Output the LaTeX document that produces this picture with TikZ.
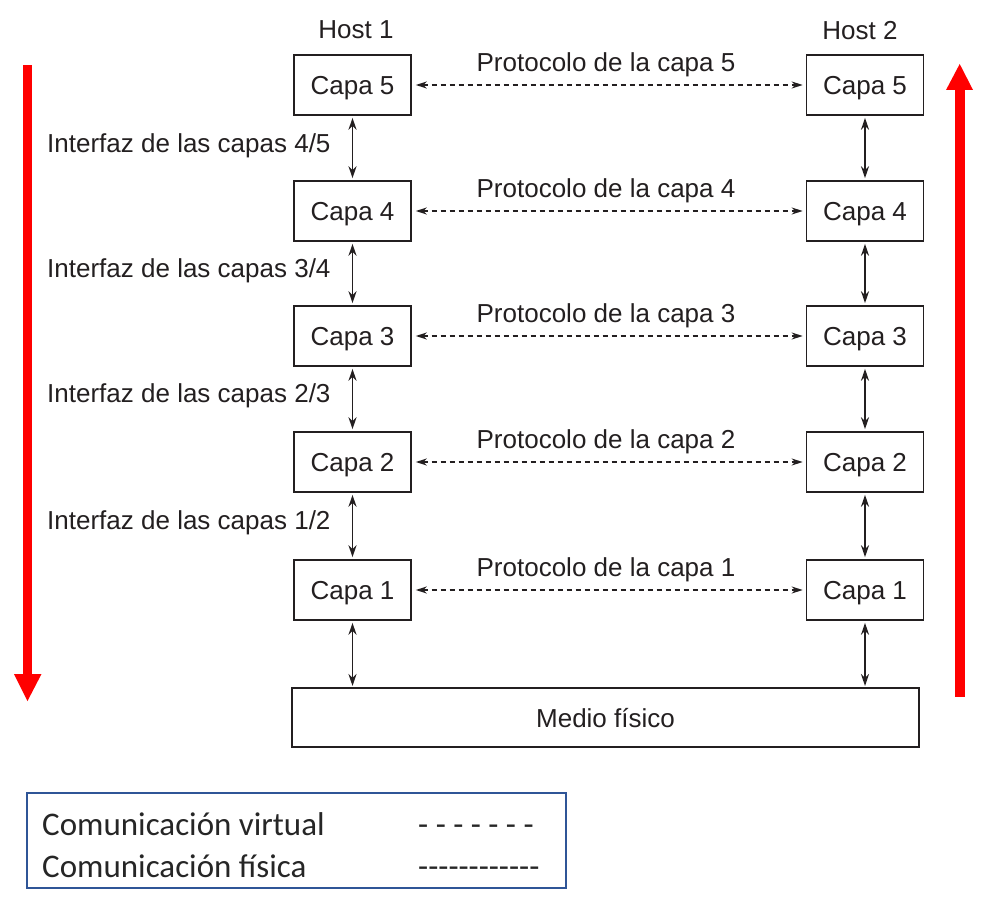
\documentclass[tikz,border=0pt]{standalone}
\usepackage{fontspec}
\setmainfont{Liberation Sans}
\newfontfamily\legendfont{Carlito}
\usetikzlibrary{arrows.meta}
\definecolor{ink}{HTML}{231F20}
\definecolor{legblue}{HTML}{2F5597}
\definecolor{legtext}{HTML}{262626}
\begin{document}
\begin{tikzpicture}[x=1pt,y=-1pt,
  font=\fontsize{26}{31}\selectfont,
  layer/.style={draw=ink,line width=1.6pt,minimum width=117pt,minimum height=60pt,inner sep=0pt,text=ink,text depth=0pt},
  lbl/.style={text=ink,inner sep=0pt,text depth=0pt},
  vlink/.style={draw=ink,line width=1.8pt,{Stealth[length=12pt,width=8pt]}-{Stealth[length=12pt,width=8pt]},shorten <=2pt,shorten >=2pt},
  hlink/.style={draw=ink,line width=1.5pt,dash pattern=on 5pt off 4pt,{Stealth[length=11pt,width=7pt]}-{Stealth[length=11pt,width=7pt]},shorten <=4pt,shorten >=3pt},
  legtxt/.style={font=\legendfont\fontsize{33}{38}\selectfont,text=legtext,inner sep=0pt,anchor=base west}]
\useasboundingbox (0,0) rectangle (987,901);

% Host labels
\node[lbl] (h1) at (356,30) {Host 1};
\node[lbl] (h2) at (860,30) {Host 2};

% Layers
\foreach \i/\y in {5/85,4/211,3/336,2/462,1/590}{
  \node[layer] (L\i) at (352.5,\y) {Capa \i};
  \node[layer] (R\i) at (865,\y) {Capa \i};
  \draw[hlink] (L\i) -- (R\i);
  \node[lbl] (P\i) at (606,\y-23) {Protocolo de la capa \i};
}

\node[layer,minimum width=627pt,minimum height=59pt] (M) at (605.5,717.5) {Medio físico};

% Interfaces
\foreach \a/\b in {5/4,4/3,3/2,2/1}{
  \draw[vlink] (L\a) -- (L\b);
  \draw[vlink] (R\a) -- (R\b);
}
\coordinate (mL) at (352.5,688);
\coordinate (mR) at (865,688);
\draw[vlink] (L1) -- (mL);
\draw[vlink] (R1) -- (mR);

\node[lbl,anchor=west] (I45) at (47,143) {Interfaz de las capas 4/5};
\node[lbl,anchor=west] (I34) at (47,268) {Interfaz de las capas 3/4};
\node[lbl,anchor=west] (I23) at (47,393) {Interfaz de las capas 2/3};
\node[lbl,anchor=west] (I12) at (47,520) {Interfaz de las capas 1/2};

% Red arrows
\fill[red] (22.5,65) rectangle (32,675) ;
\fill[red] (14,674) -- (41.5,674) -- (27.5,701) -- cycle;
\fill[red] (955,697) rectangle (964.5,89);
\fill[red] (946,90) -- (973,90) -- (959.7,64) -- cycle;

% Legend
\node[draw=legblue,line width=1.6pt,minimum width=539pt,minimum height=95pt,inner sep=0pt] (leg) at (296.5,840.5) {};
\node[legtxt] (v1) at (42,835.5) {Comunicación virtual};
\node[legtxt] (v2) at (418,835.5) {- - - - - - -};
\node[legtxt] (f1) at (42,877.5) {Comunicación física};
\node[legtxt] (f2) at (418,877.5) {------------};
\end{tikzpicture}
\end{document}
